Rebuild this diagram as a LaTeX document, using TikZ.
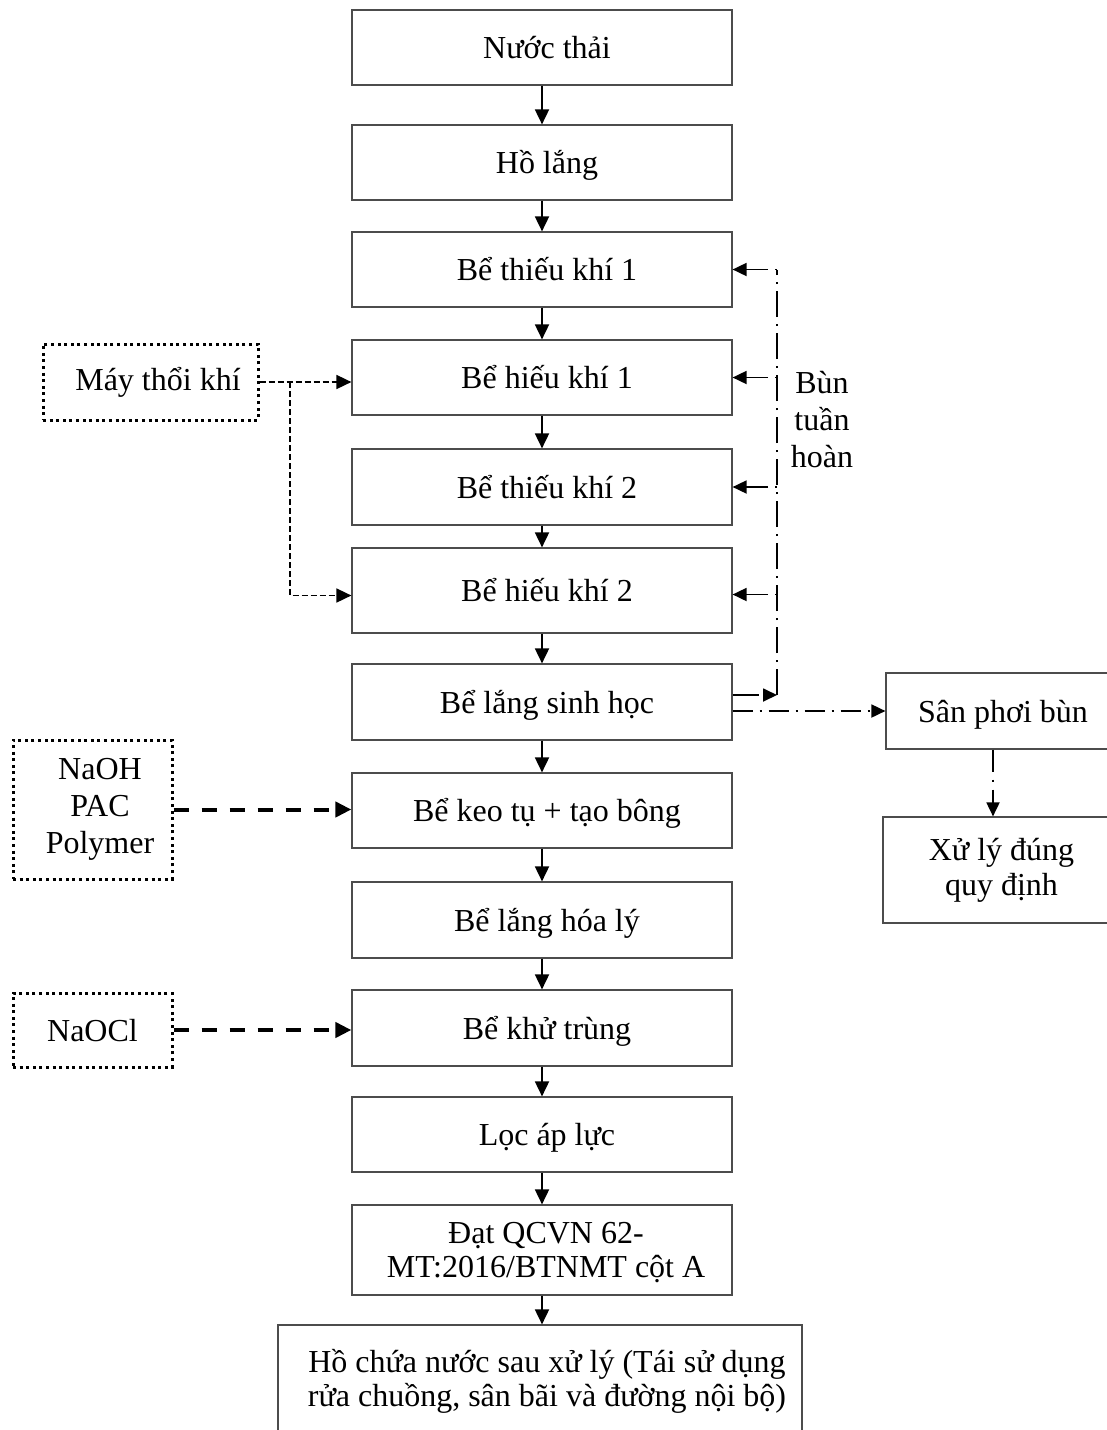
\documentclass[tikz,border=0pt]{standalone}
\usepackage{fontspec}
\setmainfont{Liberation Serif}
\usetikzlibrary{arrows.meta}
\begin{document}
\begin{tikzpicture}[x=1pt,y=-1pt,
  every node/.style={font=\fontsize{32}{36}\selectfont},
  proc/.style={draw=black!70, line width=1.2pt, minimum width=380pt, inner sep=0pt, align=center},
  one/.style={text height=22pt, text depth=0pt},
  sh/.style={one, execute at begin node={\hspace*{10pt}}},
  chem/.style={draw=black, line width=3pt, dash pattern=on 3pt off 3.6pt, inner sep=0pt, align=center},
  flow/.style={line width=1.8pt, -{Triangle[length=15pt,width=14pt]}},
  air/.style={line width=1.7pt, dash pattern=on 6pt off 3pt, -{Triangle[length=15pt,width=14pt]}},
  dose/.style={line width=4pt, dash pattern=on 15pt off 13pt, -{Triangle[length=16pt,width=15pt]}},
  recline/.style={line width=1.8pt, dash pattern=on 26pt off 7pt on 2pt off 7pt},
  rec/.style={line width=1.8pt, dash pattern=on 2pt off 7pt on 26pt off 7pt, -{Triangle[length=14pt,width=13pt]}},
]
\useasboundingbox (0,0) rectangle (1107,1430);
\clip (0,0) rectangle (1107,1430);

% main column
\node[proc, sh, minimum height=75pt] (n1) at (542,47.5) {Nước thải};
\node[proc, sh, minimum height=75pt] (n2) at (542,162.5) {Hồ lắng};
\node[proc, sh, minimum height=75pt] (n3) at (542,269.5) {Bể thiếu khí 1};
\node[proc, sh, minimum height=75pt] (n4) at (542,377.5) {Bể hiếu khí 1};
\node[proc, sh, minimum height=76pt] (n5) at (542,487) {Bể thiếu khí 2};
\node[proc, sh, minimum height=85pt] (n6) at (542,590.5) {Bể hiếu khí 2};
\node[proc, sh, minimum height=76pt] (n7) at (542,702) {Bể lắng sinh học};
\node[proc, sh, minimum height=75pt] (n8) at (542,810.5) {Bể keo tụ + tạo bông};
\node[proc, sh, minimum height=76pt] (n9) at (542,920) {Bể lắng hóa lý};
\node[proc, sh, minimum height=76pt] (n10) at (542,1028) {Bể khử trùng};
\node[proc, sh, minimum height=75pt] (n11) at (542,1134.5) {Lọc áp lực};
\node[proc, minimum height=90pt] (n12) at (542,1250) {};
\node[font=\fontsize{32}{34}\selectfont, align=center] (n12t) at (546,1253) {Đạt QCVN 62-\\MT:2016/BTNMT cột A};
\node[proc, minimum width=524pt, minimum height=112pt, font=\fontsize{32}{34}\selectfont] (n13) at (540,1381) {\hspace*{14pt}Hồ chứa nước sau xử lý (Tái sử dụng\\\hspace*{14pt}rửa chuồng, sân bãi và đường nội bộ)};

\draw[flow] (n1) -- (n2);
\draw[flow] (n2) -- (n3);
\draw[flow] (n3) -- (n4);
\draw[flow] (n4) -- (n5);
\draw[flow] (n5) -- (n6);
\draw[flow] (n6) -- (n7);
\draw[flow] (n7) -- (n8);
\draw[flow] (n8) -- (n9);
\draw[flow] (n9) -- (n10);
\draw[flow] (n10) -- (n11);
\draw[flow] (n11) -- (n12);
\draw[flow] (n12) -- (n12 |- n13.north);

% blower
\node[chem, minimum width=215pt, minimum height=76pt] (blow) at (150.5,382) {\hspace*{15pt}Máy thổi khí};
\coordinate (br) at (290,382);
\draw[air] (blow.east) -- (blow.east -| n4.west);
\draw[air] (br) |- ([yshift=-5pt]n6.west);

% chemicals
\node[chem, minimum width=159pt, minimum height=139pt, font=\fontsize{32}{37}\selectfont] (naoh) at (92.5,809.5) {\hspace*{15pt}NaOH\\\hspace*{15pt}PAC\\\hspace*{15pt}Polymer};
\draw[dose] (naoh.east) -- (naoh.east -| n8.west);
\node[chem, one, minimum width=159pt, minimum height=74pt] (naocl) at (92.5,1030) {NaOCl};
\draw[dose] (naocl.east) -- (naocl.east -| n10.west);

% sludge recirculation
\coordinate (rx) at (777,0);
\coordinate (rb) at (777,695);
\draw[recline] (rb) -- (rx |- n3.east);
\draw[rec] (rx |- n3.east) -- (n3.east);
\draw[rec] (rx |- n4.east) -- (n4.east);
\draw[rec] (rx |- n5.east) -- (n5.east);
\draw[rec] ([yshift=-4pt]rx |- n6.east) -- ([yshift=-4pt]n6.east);
\draw[recline, -{Triangle[length=14pt,width=13pt]}] ([yshift=7pt]n7.east) -- (rb);
\node[font=\fontsize{32}{37}\selectfont, align=center] (lbl) at (822,420) {Bùn\\tuần\\hoàn};

% sludge drying
\node[proc, one, minimum width=234pt, minimum height=76pt] (sp) at (1003,711) {Sân phơi bùn};
\node[proc, minimum width=237pt, minimum height=106pt, font=\fontsize{32}{35}\selectfont] (xl) at (1001.5,870) {Xử lý đúng\\quy định};
\draw[recline, dash pattern=on 20pt off 7pt on 2pt off 7pt, -{Triangle[length=14pt,width=13pt]}] (n7.east |- sp.west) -- (sp.west);
\coordinate (sx) at (993,0);
\draw[recline, dash pattern=on 22pt off 8pt on 2pt off 8pt, -{Triangle[length=14pt,width=13pt]}] (sx |- sp.south) -- (sx |- xl.north);
\end{tikzpicture}
\end{document}
